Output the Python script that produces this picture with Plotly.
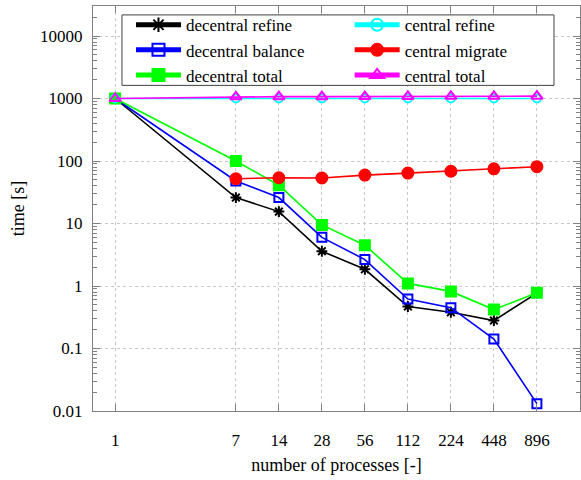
import plotly.graph_objects as go

procs = [1, 7, 14, 28, 56, 112, 224, 448, 896]
tick_labels = ["1", "7", "14", "28", "56", "112", "224", "448", "896"]

decentral_refine = [1000, 26, 15.5, 3.6, 1.85, 0.47, 0.38, 0.28, 0.77]
decentral_balance = [1000, 48, 26, 6.0, 2.65, 0.62, 0.45, 0.142, 0.0131]
decentral_total = [1000, 100, 41, 9.5, 4.5, 1.1, 0.82, 0.42, 0.78]
central_refine = [1000, 1000, 1000, 1000, 1000, 1000, 1000, 1000, 1000]
central_migrate = [None, 52, 54, 53.5, 59.5, 64, 68.5, 75, 81]
central_total = [1000, 1065, 1070, 1070, 1075, 1080, 1082, 1085, 1090]

series = [
    ("decentral refine", decentral_refine, "#000000", "asterisk-open", 9, "legend"),
    ("decentral balance", decentral_balance, "#0000ff", "square-open", 9, "legend"),
    ("decentral total", decentral_total, "#00ff00", "square", 10, "legend"),
    ("central refine", central_refine, "#00ffff", "circle-open", 8, "legend2"),
    ("central migrate", central_migrate, "#ff0000", "circle", 11, "legend2"),
    ("central total", central_total, "#ff00ff", "triangle-up-open", 10, "legend2"),
]

fig = go.Figure()
for name, vals, color, sym, size, leg in series:
    fig.add_trace(go.Scatter(
        x=procs, y=vals, name=name, mode="lines+markers",
        line=dict(color=color, width=1.6),
        marker=dict(symbol=sym, size=size, color=color,
                    line=dict(color=color, width=2)),
        legend=leg,
    ))

font = "Liberation Serif"
axis_common = dict(
    type="log", showline=True, linecolor="#808080", linewidth=1,
    mirror="ticks", ticks="inside", tickcolor="#808080",
    showgrid=True, gridcolor="#c8c8c8", griddash="dot", gridwidth=1,
    zeroline=False, automargin=False,
    tickfont=dict(family=font, size=17, color="black"),
)

fig.update_xaxes(
    **axis_common, range=[-0.155, 3.254],
    tickmode="array", tickvals=procs, ticktext=tick_labels, ticklen=7,
    ticklabelstandoff=14,
    title=dict(text="number of processes [-]", font=dict(family=font, size=18, color="black"), standoff=8),
)
fig.update_yaxes(
    **axis_common, range=[-2, 4.48],
    tickmode="array", tickvals=[0.01, 0.1, 1, 10, 100, 1000, 10000],
    ticktext=["0.01", "0.1", "1", "10", "100", "1000", "10000"], ticklen=7,
    ticklabelstandoff=6,
    minor=dict(dtick="D1", ticks="inside", ticklen=4, tickcolor="#808080", showgrid=False),
    title=dict(text="time [s]", font=dict(family=font, size=18, color="black"), standoff=10),
)

leg_common = dict(
    orientation="v", y=0.997, xanchor="left", yanchor="top",
    bgcolor="rgba(0,0,0,0)", borderwidth=0,
    font=dict(family=font, size=17, color="black"),
    itemsizing="constant", itemwidth=45,
)

fig.update_layout(
    width=581, height=480,
    margin=dict(l=93, r=1, t=6, b=69),
    plot_bgcolor="white", paper_bgcolor="white",
    font=dict(family=font, size=17, color="black"),
    legend=dict(x=0.078, **leg_common),
    legend2=dict(x=0.527, **leg_common),
    showlegend=True,
    shapes=[dict(
        type="rect", xref="paper", yref="paper",
        x0=0.0595, x1=0.9466, y0=0.804, y1=0.978,
        fillcolor="white", line=dict(color="#404040", width=1), layer="above",
    )],
)

fig.write_html("out.html", config={"displayModeBar": False},
               post_script="document.body.style.margin='0';document.body.style.overflow='hidden';")
